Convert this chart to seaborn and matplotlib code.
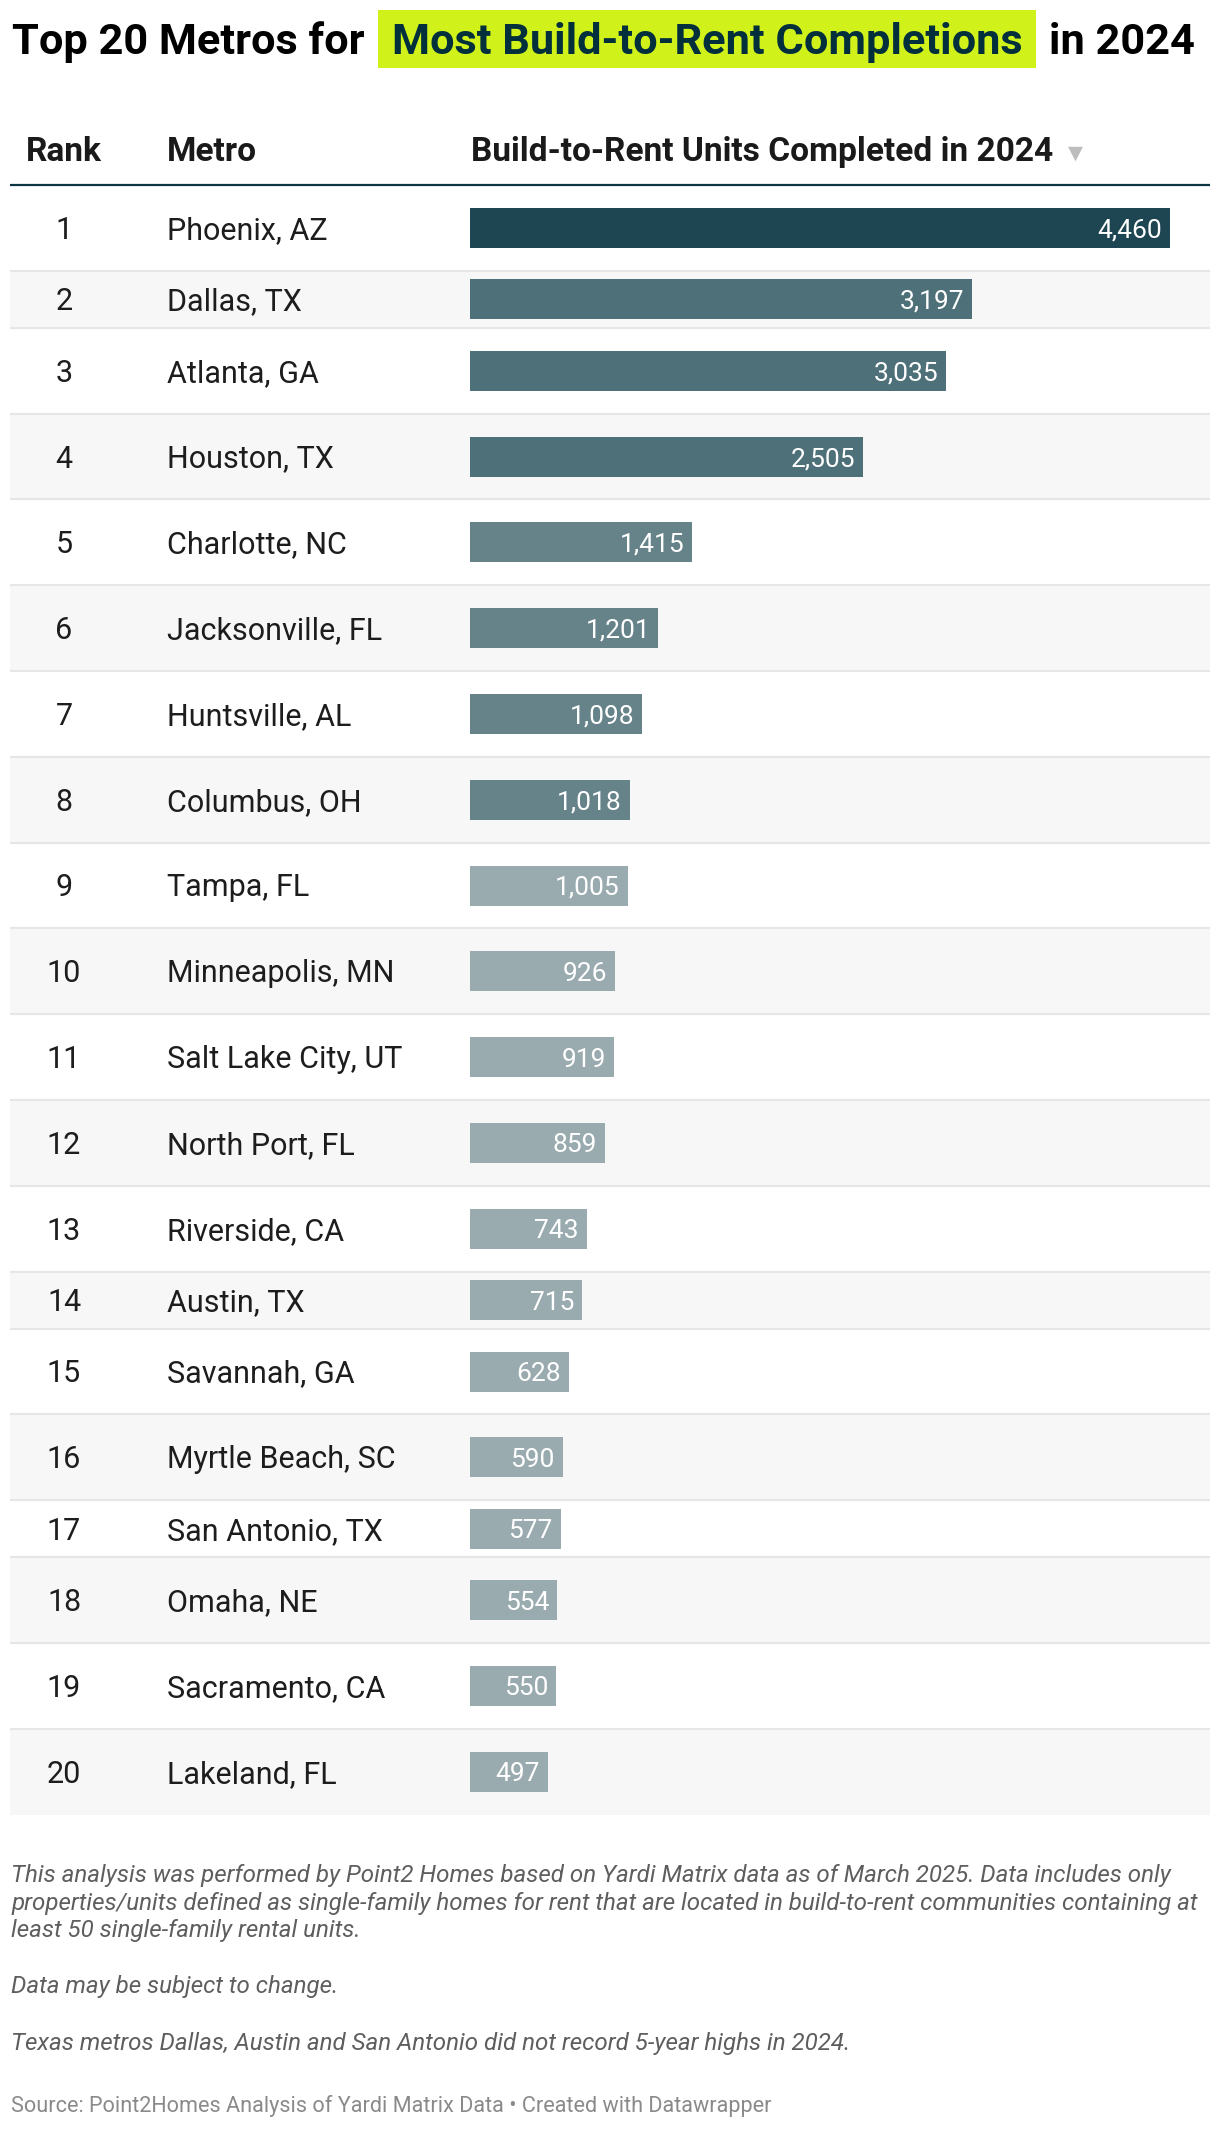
import numpy as np
import pandas as pd
import matplotlib
matplotlib.use("Agg")
import matplotlib.pyplot as plt
from matplotlib.patches import Rectangle
import seaborn as sns

# Data
ranks = list(range(1, 21))
metros = [
    "Phoenix, AZ", "Dallas, TX", "Atlanta, GA", "Houston, TX", "Charlotte, NC",
    "Jacksonville, FL", "Huntsville, AL", "Columbus, OH", "Tampa, FL", "Minneapolis, MN",
    "Salt Lake City, UT", "North Port, FL", "Riverside, CA", "Austin, TX", "Savannah, GA",
    "Myrtle Beach, SC", "San Antonio, TX", "Omaha, NE", "Sacramento, CA", "Lakeland, FL",
]
units = [4460, 3197, 3035, 2505, 1415, 1201, 1098, 1018, 1005, 926,
         919, 859, 743, 715, 628, 590, 577, 554, 550, 497]
tier = ["a", "b", "b", "b", "c", "c", "c", "c", "d", "d",
        "d", "d", "d", "d", "d", "d", "d", "d", "d", "d"]
short_rows = [2, 14, 17]

tier_colors = {"a": "#1d4552", "b": "#4e7078", "c": "#668389", "d": "#9aabb0"}

notes = [
    "This analysis was performed by Point2 Homes based on Yardi Matrix data as of March 2025. Data includes only",
    "properties/units defined as single-family homes for rent that are located in build-to-rent communities containing at",
    "least 50 single-family rental units.",
]
note2 = "Data may be subject to change."
note3 = "Texas metros Dallas, Austin and San Antonio did not record 5-year highs in 2024."
source = "Source: Point2Homes Analysis of Yardi Matrix Data \u2022 Created with Datawrapper"

sns.set_theme(style="white")
plt.rcParams["font.family"] = ["Roboto", "DejaVu Sans"]

W, H = 1220, 2130
fig = plt.figure(figsize=(W / 100, H / 100), dpi=100)
fig.patch.set_facecolor("white")

# background axes in pixel units
bg = fig.add_axes([0, 0, 1, 1])
bg.set_xlim(0, W)
bg.set_ylim(H, 0)
bg.axis("off")

# row geometry
table_top = 185
heights = np.array([57 if r in short_rows else 85.8 for r in ranks])
edges = table_top + np.concatenate([[0], np.cumsum(heights)])
centers = (edges[:-1] + edges[1:]) / 2
left, right = 10, 1210

for i, r in enumerate(ranks):
    if r % 2 == 0:
        bg.add_patch(Rectangle((left, edges[i]), right - left, heights[i],
                               facecolor="#f7f7f7", lw=0, zorder=0))
bg.hlines(edges[1:-1], left, right, color="#e6e6e6", lw=1.5, zorder=1)
bg.hlines(table_top, left, right, color="#0b3541", lw=1.6, zorder=2)

# header
hdr = dict(fontsize=24.1, fontweight="bold", color="#1a1a1a", va="baseline")
bg.text(64, 161, "Rank", ha="center", **hdr)
bg.text(167, 161, "Metro", ha="left", **hdr)
bg.text(471, 161, "Build-to-Rent Units Completed in 2024", ha="left", **hdr)
bg.text(1075, 159, "\u25bc", ha="center", va="baseline", fontsize=14,
        color="#bdbdbd", family=["DejaVu Sans"])

# rank and metro columns
for c, r, m in zip(centers, ranks, metros):
    bg.text(64, c + 11, str(r), ha="center", va="baseline", fontsize=22, color="#1d1d1d")
    bg.text(167, c + 11, m, ha="left", va="baseline", fontsize=22, color="#1d1d1d")

# bars
df = pd.DataFrame({"metro": metros, "units": units, "tier": tier, "center": centers})
bar_w = 740
bax = fig.add_axes([470 / W, 0, bar_w / W, 1])
min_gap = np.min(np.diff(centers))
sns.barplot(data=df, x="units", y="center", hue="tier", palette=tier_colors,
            orient="h", native_scale=True, dodge=False, legend=False,
            width=40 / min_gap, saturation=1, linewidth=0, ax=bax)
bax.set_xlim(0, max(units) * bar_w / 700)
bax.set_ylim(H, 0)
bax.axis("off")
bax.patch.set_alpha(0)

for p in bax.patches:
    w = p.get_width()
    yc = p.get_y() + p.get_height() / 2
    bax.annotate(f"{w:,.0f}", xy=(w, yc), xytext=(-8 * 0.72, -9.5 * 0.72),
                 textcoords="offset points", ha="right", va="baseline",
                 fontsize=19, color="white")

# title with highlighted phrase
renderer = fig.canvas.get_renderer()
inv = bg.transData.inverted()
tkw = dict(fontsize=31.2, fontweight="bold", va="baseline")
first = bg.text(12, 54, "Top 20 Metros for", color="#000000", **tkw)
fb = first.get_window_extent(renderer=renderer).transformed(inv)
mid_x = max(fb.x0, fb.x1) + 27
mid = bg.text(mid_x, 54, "Most Build-to-Rent Completions", color="#022f3c", zorder=3, **tkw)
bb = mid.get_window_extent(renderer=renderer).transformed(inv)
x0, x1 = min(bb.x0, bb.x1), max(bb.x0, bb.x1)
bg.add_patch(Rectangle((x0 - 14, 10), (x1 - x0) + 28, 58, facecolor="#d0f21a", lw=0, zorder=2))
bg.text(x1 + 27, 54, "in 2024", color="#000000", **tkw)

# notes
nkw = dict(fontsize=17.35, fontstyle="italic", color="#5e5e5e", va="baseline", ha="left")
for y, line in zip([1882, 1910, 1937], notes):
    bg.text(11, y, line, **nkw)
bg.text(11, 1993, note2, **nkw)
bg.text(11, 2050, note3, **nkw)
bg.text(11, 2112, source, fontsize=15.6, color="#8a8a8a", va="baseline", ha="left")

fig.savefig("out.png", dpi=100, facecolor="white")
